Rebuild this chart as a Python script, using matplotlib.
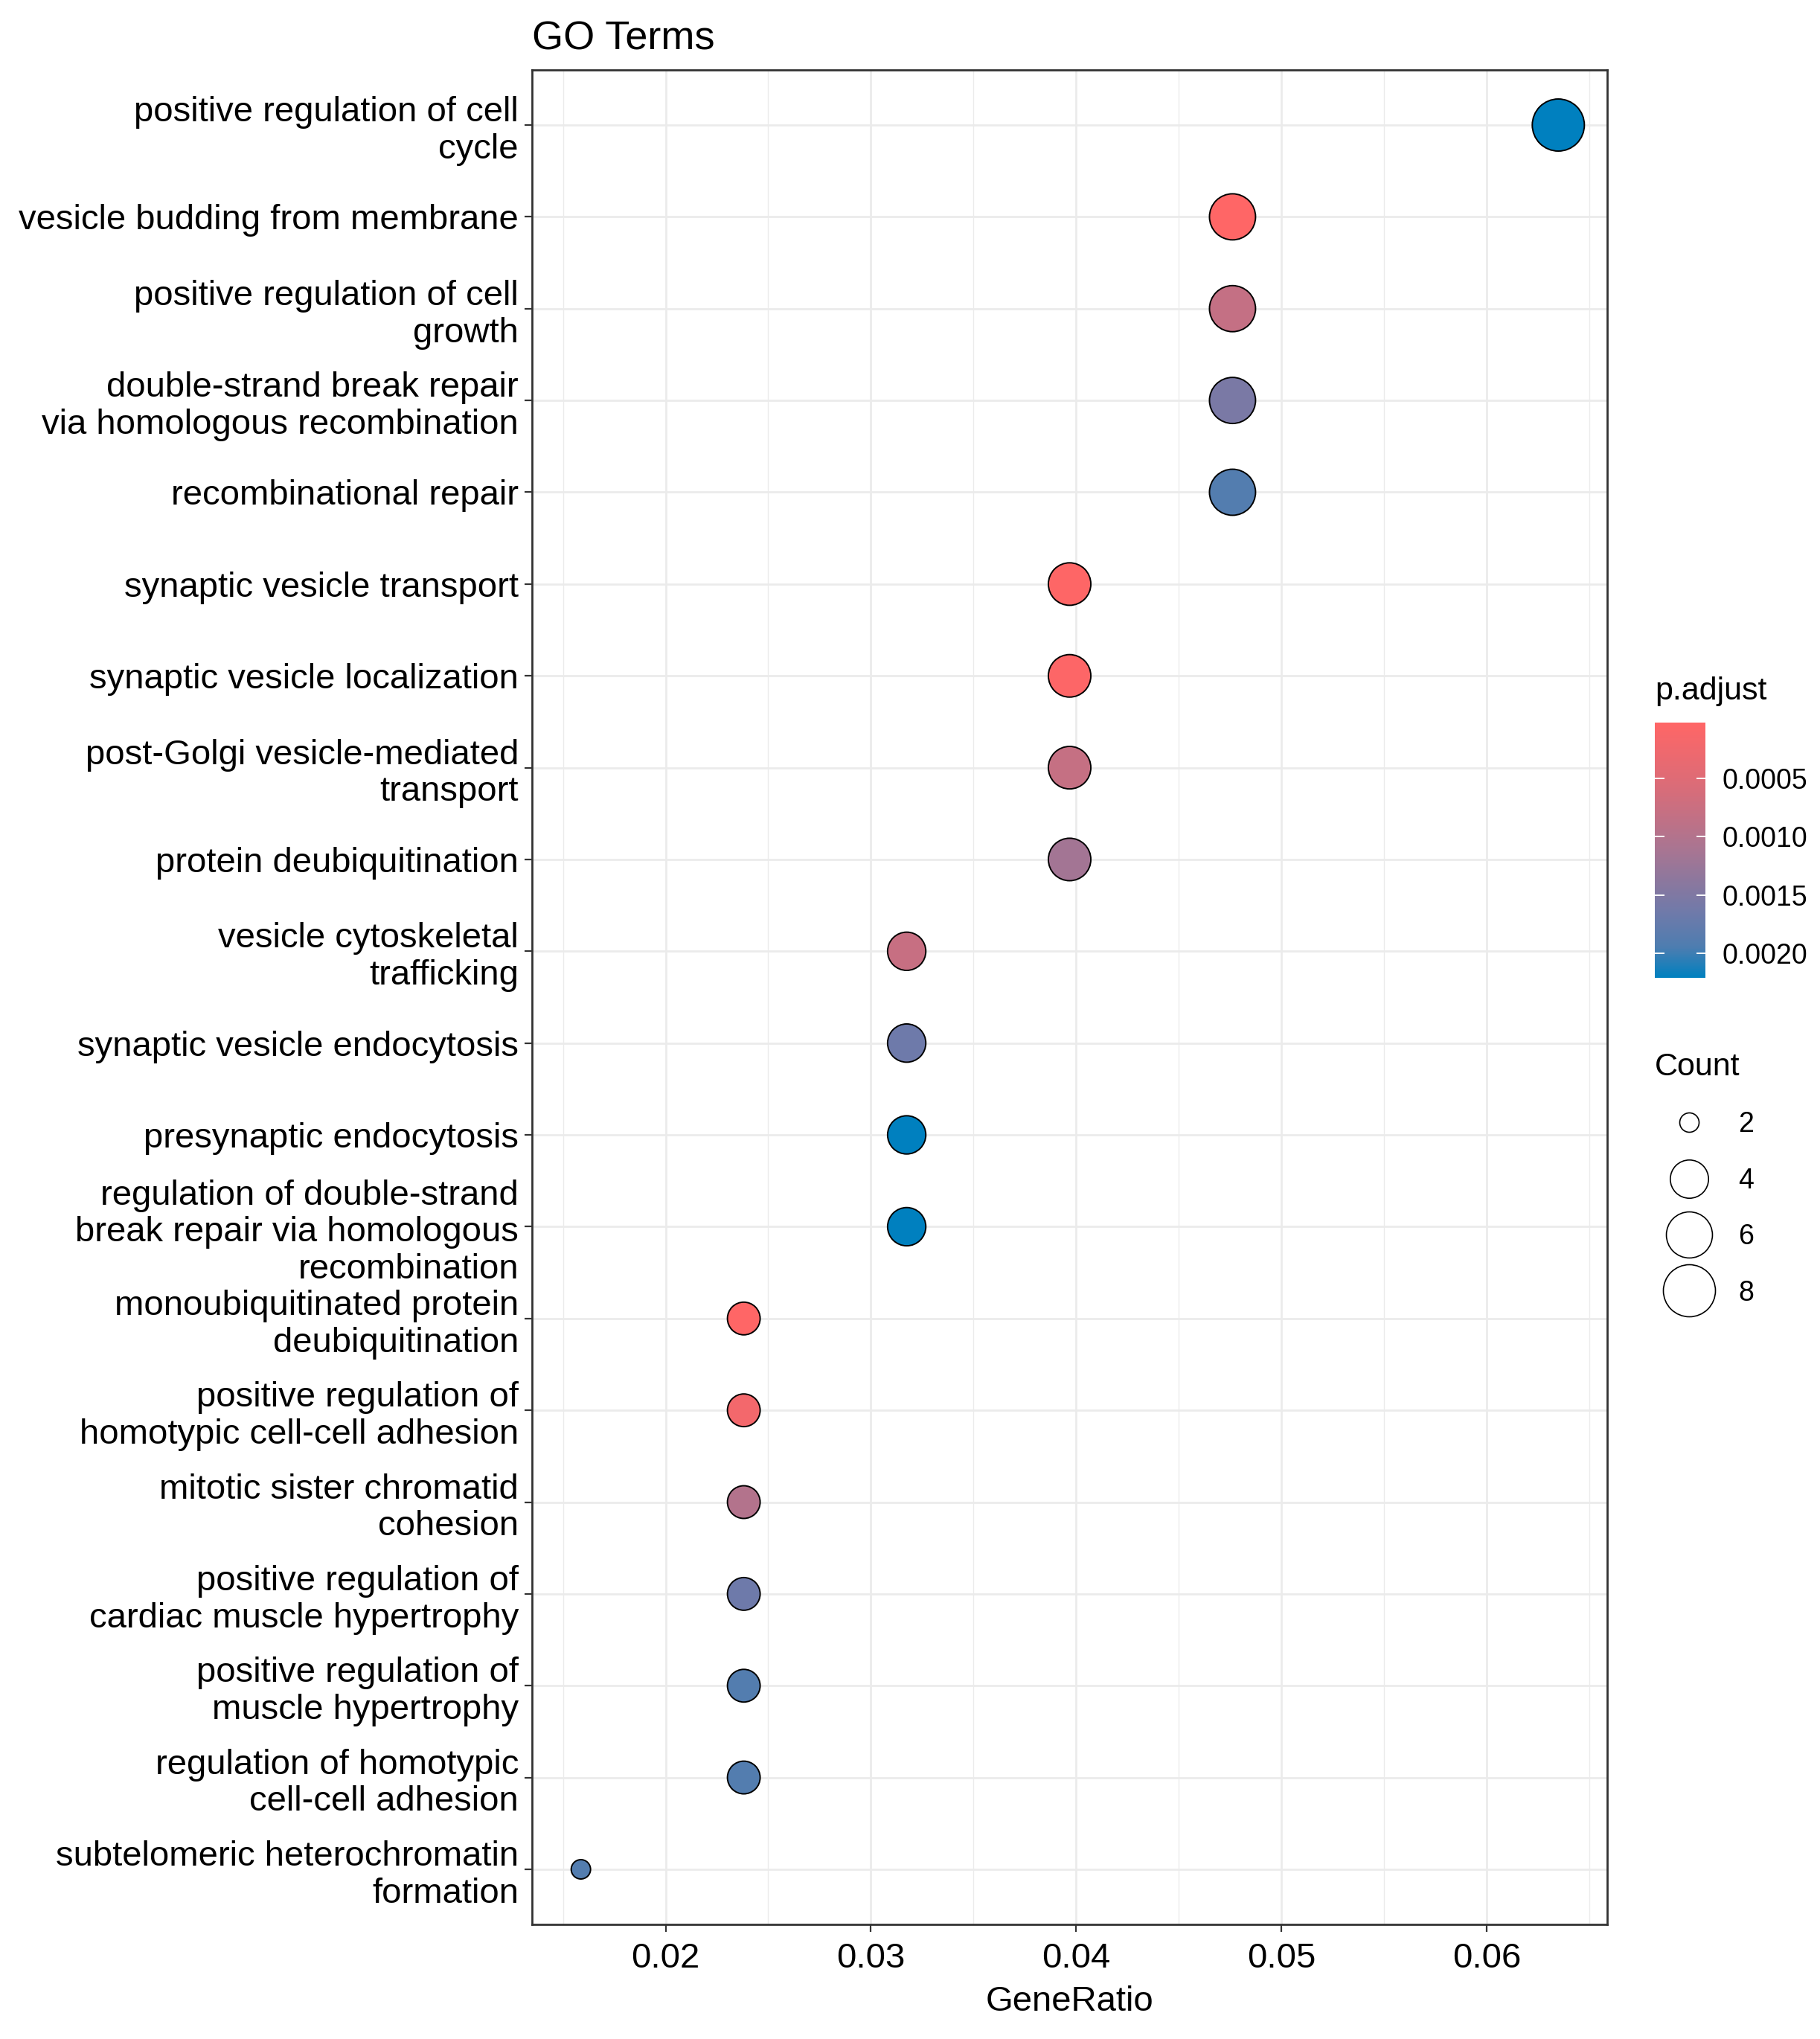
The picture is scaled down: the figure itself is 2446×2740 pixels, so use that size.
import numpy as np
import matplotlib
matplotlib.use("Agg")
import matplotlib.pyplot as plt
from matplotlib.colors import LinearSegmentedColormap, Normalize
from matplotlib.lines import Line2D
from matplotlib.ticker import MultipleLocator

plt.rcParams['font.family'] = ['Liberation Sans', 'DejaVu Sans']

# GO terms, top to bottom as in the chart
terms = [
    "positive regulation of cell\ncycle",
    "vesicle budding from membrane",
    "positive regulation of cell\ngrowth",
    "double-strand break repair\nvia homologous recombination",
    "recombinational repair",
    "synaptic vesicle transport",
    "synaptic vesicle localization",
    "post-Golgi vesicle-mediated\ntransport",
    "protein deubiquitination",
    "vesicle cytoskeletal\ntrafficking",
    "synaptic vesicle endocytosis",
    "presynaptic endocytosis",
    "regulation of double-strand\nbreak repair via homologous\nrecombination",
    "monoubiquitinated protein\ndeubiquitination",
    "positive regulation of\nhomotypic cell-cell adhesion",
    "mitotic sister chromatid\ncohesion",
    "positive regulation of\ncardiac muscle hypertrophy",
    "positive regulation of\nmuscle hypertrophy",
    "regulation of homotypic\ncell-cell adhesion",
    "subtelomeric heterochromatin\nformation",
]
counts = [8, 6, 6, 6, 6, 5, 5, 5, 5, 4, 4, 4, 4, 3, 3, 3, 3, 3, 3, 2]
gene_total = 126
p_adjust = [0.00221, 0.00002, 0.00081, 0.00155, 0.00190,
            0.00003, 0.00005, 0.00080, 0.00116, 0.00078,
            0.00166, 0.00221, 0.00221, 0.00002, 0.00020,
            0.00100, 0.00166, 0.00190, 0.00190, 0.00190]
legend_counts = [2, 4, 6, 8]
cbar_ticks = [0.0005, 0.0010, 0.0015, 0.0020]

gene_ratio = np.array(counts) / gene_total

cmap = LinearSegmentedColormap.from_list(
    "padj", [(0.0, "#FF6666"), (0.25, "#DA6C78"), (0.5, "#A87592"),
             (0.75, "#6E7AAA"), (0.88, "#4E7DB0"), (1.0, "#0080BF")])
norm = Normalize(vmin=min(p_adjust), vmax=max(p_adjust))

cmin, cmax = min(counts), max(counts)
def diam_px(c):
    return 26 + 44 * np.sqrt((np.asarray(c, float) - cmin) / (cmax - cmin))

W, H = 2446, 2740
fig = plt.figure(figsize=(W / 100, H / 100), dpi=100)
ax = fig.add_axes([715 / W, 1 - 2586 / H, (2160 - 715) / W, (2586 - 94) / H])

# bottom-to-top for categorical axis
ax.set_axisbelow(True)
sc = ax.scatter(gene_ratio[::-1], terms[::-1], s=(diam_px(counts[::-1]) * 0.72) ** 2,
                c=p_adjust[::-1], cmap=cmap, norm=norm,
                edgecolors="black", linewidths=1.4, zorder=3)

n = len(terms)
ax.set_ylim(-0.6, n - 0.4)
xr = gene_ratio.max() - gene_ratio.min()
ax.set_xlim(gene_ratio.min() - 0.05 * xr, gene_ratio.max() + 0.05 * xr)
ax.xaxis.set_major_locator(MultipleLocator(0.01))
ax.xaxis.set_minor_locator(MultipleLocator(0.005))
ax.xaxis.set_major_formatter(lambda v, p: f"{v:.2f}")

ax.grid(True, which="major", color="#EBEBEB", linewidth=2.0)
ax.grid(True, which="minor", axis="x", color="#EBEBEB", linewidth=1.0)
ax.tick_params(axis="x", which="minor", length=0)
ax.tick_params(axis="both", which="major", length=7, width=1.6, color="#333333",
               labelsize=34, labelcolor="black")
ax.tick_params(axis="x", pad=10)
ax.tick_params(axis="y", pad=6)
for lab in ax.get_yticklabels():
    lab.set_linespacing(1.17)
for sp in ax.spines.values():
    sp.set_color("#333333")
    sp.set_linewidth(2.0)

ax.set_xlabel("GeneRatio", fontsize=34, labelpad=10)
ax.set_title("GO Terms", loc="left", fontsize=39, pad=20)

# colour bar
cax = fig.add_axes([2224 / W, 1 - 1314 / H, 68 / W, 343 / H])
cb = fig.colorbar(sc, cax=cax)
cb.outline.set_visible(False)
cb.set_ticks(cbar_ticks)
cb.set_ticklabels([f"{t:.4f}" for t in cbar_ticks])
cax.invert_yaxis()
cax.yaxis.set_ticks_position("both")
cax.tick_params(direction="in", length=9, width=1.4, color="white",
                labelsize=27, labelleft=False, labelright=True, pad=16)
cax.set_title("p.adjust", loc="left", fontsize=31, pad=22)

# size legend
handles = [Line2D([], [], marker="o", ls="", markerfacecolor="white",
                  markeredgecolor="black", markeredgewidth=1.2,
                  markersize=float(diam_px(c)) * 0.72) for c in legend_counts]
fig.legend(handles, [str(c) for c in legend_counts], title="Count",
           loc="upper left", bbox_to_anchor=(2224 / W, 1 - 1414 / H),
           frameon=False, fontsize=27, title_fontsize=31, alignment="left",
           borderaxespad=0, borderpad=0, handlelength=2.45, handletextpad=0.55,
           labelspacing=1.05)

fig.savefig("out.png", dpi=100, facecolor="white")
